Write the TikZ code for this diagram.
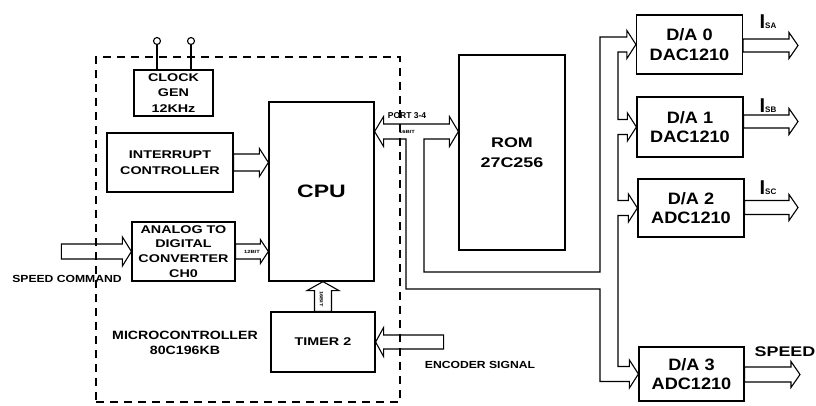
\documentclass[tikz,border=0pt]{standalone}
\usepackage{fontspec}
\setmainfont{Liberation Sans}
\newfontfamily\fW[FakeStretch=1.28]{Liberation Sans}
\newfontfamily\fM[FakeStretch=1.18]{Liberation Sans}
\newfontfamily\fD[FakeStretch=1.1]{Liberation Sans}
\usetikzlibrary{calc}
\newcommand\fsz[2]{\fontsize{#1}{#2}\selectfont}
% block arrows: tail, tip, half width, head length, head half width
\newcommand\barR[5]{\draw[arr] ($(#1)+(0,-#3)$) -- ($(#2)+(-#4,-#3)$) -- ($(#2)+(-#4,-#5)$) -- (#2) -- ($(#2)+(-#4,#5)$) -- ($(#2)+(-#4,#3)$) -- ($(#1)+(0,#3)$) -- cycle;}
\newcommand\barL[5]{\draw[arr] ($(#1)+(0,-#3)$) -- ($(#2)+(#4,-#3)$) -- ($(#2)+(#4,-#5)$) -- (#2) -- ($(#2)+(#4,#5)$) -- ($(#2)+(#4,#3)$) -- ($(#1)+(0,#3)$) -- cycle;}
\newcommand\barU[5]{\draw[arr] ($(#1)+(-#3,0)$) -- ($(#2)+(-#3,#4)$) -- ($(#2)+(-#5,#4)$) -- (#2) -- ($(#2)+(#5,#4)$) -- ($(#2)+(#3,#4)$) -- ($(#1)+(#3,0)$) -- cycle;}
\begin{document}
\begin{tikzpicture}[x=1pt,y=-1pt,
  box/.style={draw, line width=1.2pt, inner sep=0pt, align=center, font=\fW\bfseries\fsz{11.2}{15.5}},
  dabox/.style={draw, line width=1.2pt, inner sep=0pt, align=center, font=\fD\bfseries\fsz{16.5}{19.5}, minimum width=106pt},
  arr/.style={line width=1.1pt, line join=miter},
  bus/.style={line width=1.1pt, line join=miter},
  lab/.style={inner sep=0pt, align=center, font=\fM\bfseries\fsz{10.3}{15}},
  tiny/.style={inner sep=0pt, font=\fW\bfseries\fsz{4.5}{5}},
  isub/.style={inner sep=0pt, font=\bfseries},
  mcubox/.style={draw, dash pattern=on 8pt off 6pt, line width=1.3pt, inner sep=0pt}]
\path[fill=white, use as bounding box] (0,0) rectangle (816,405);

% microcontroller boundary
\node[mcubox, minimum width=304pt, minimum height=345pt] (mcu) at (248,229.5) {};

% boxes
\node[box, minimum width=79pt, minimum height=46pt] (clk) at (173.5,93) {CLOCK\\GEN\\12KHz};
\node[box, minimum width=126pt, minimum height=59pt] (intr) at (170,162.5) {INTERRUPT\\CONTROLLER};
\node[box, minimum width=103pt, minimum height=59pt, font=\fW\bfseries\fsz{11.2}{14.8}] (adc) at (183.5,251.5) {ANALOG TO\\DIGITAL\\CONVERTER\\CH0};
\node[box, minimum width=105pt, minimum height=179pt, font=\fW\bfseries\fsz{18}{20}] (cpu) at (321.5,191.5) {CPU};
\node[box, minimum width=104pt, minimum height=60pt] (timer) at (323,342) {TIMER 2};
\node[box, minimum width=106pt, minimum height=195pt, font=\fW\bfseries\fsz{14}{20}] (rom) at (512,152.5) {ROM\\27C256};
\node[dabox, minimum height=59pt] (da0) at (689.5,44.5) {D/A 0\\DAC1210};
\node[dabox, minimum height=60pt] (da1) at (690,127) {D/A 1\\DAC1210};
\node[dabox, minimum height=58pt] (da2) at (691,208) {D/A 2\\ADC1210};
\node[dabox, minimum height=54pt, minimum width=105pt] (da3) at (691.5,374) {D/A 3\\ADC1210};

% clock pins
\coordinate (pin1) at (157,41);
\coordinate (pin2) at (191,41);
\draw[line width=1.1pt] (pin1) circle[radius=3.5pt] (pin2) circle[radius=3.5pt];
\draw[line width=1.1pt] (clk.north -| pin1) -- ($(pin1)+(0,3.5)$);
\draw[line width=1.1pt] (clk.north -| pin2) -- ($(pin2)+(0,3.5)$);

% block arrows
\coordinate (sc0) at ($(adc.west)+(-70,0)$);
\barR{sc0}{adc.west}{7.5}{9}{14.5}
\coordinate (a12) at (cpu.west |- adc.east);
\barR{adc.east}{a12}{7.5}{8}{12}
\coordinate (ai) at (cpu.west |- intr.east);
\barR{intr.east}{ai}{8.5}{9}{14}
\coordinate (at) at (timer.north |- cpu.south);
\barU{timer.north}{at}{8.5}{9}{16}
\coordinate (en0) at ($(timer.east)+(68,0)$);
\barL{en0}{timer.east}{7}{8}{14.5}

% outputs
\coordinate (o0a) at (da0.east |- 0,45.5);  \coordinate (o0b) at (798,45.5);
\coordinate (o1a) at (da1.east |- 0,121.5); \coordinate (o1b) at (798,121.5);
\coordinate (o2a) at (da2.east |- 0,207.5); \coordinate (o2b) at (798,207.5);
\coordinate (o3a) at (da3.east |- 0,374.5); \coordinate (o3b) at (800,374.5);
\barR{o0a}{o0b}{6.5}{9}{13}
\barR{o1a}{o1b}{6.5}{9}{13}
\barR{o2a}{o2b}{7}{9}{13}
\barR{o3a}{o3b}{7.5}{9}{13}

% system bus (port 3-4)
\coordinate (pl) at (cpu.east |- 0,131.5);
\coordinate (pr) at (rom.west |- 0,131.5);
\draw[bus] (pl) -- ++(9,-15) -- ++(0,7.5) -- ($(pr)+(-9,-7.5)$) -- ++(0,-7.5) -- (pr) -- ++(-9,15) -- ++(0,-7.5)
  -- (424,139) -- (424,272) -- (600,272) -- (600,37)
  -- ($(da0.west)+(-9,-7.5)$) -- ++(0,-6.5) -- (da0.west) -- ++(-9,14) -- ++(0,-6.5) -- (618,52) -- (618,119.5)
  -- ($(da1.west)+(-9,-7.5)$) -- ++(0,-6.5) -- (da1.west) -- ++(-9,14) -- ++(0,-6.5) -- (618,134.5) -- (618,200.5)
  -- ($(da2.west)+(-9,-7.5)$) -- ++(0,-6.5) -- (da2.west) -- ++(-9,14) -- ++(0,-6.5) -- (618,215.5) -- (618,366.5)
  -- ($(da3.west)+(-9,-7.5)$) -- ++(0,-6.5) -- (da3.west) -- ++(-9,14) -- ++(0,-6.5) -- (600,381.5) -- (600,289)
  -- (406,289) -- (406,139) -- ($(pl)+(9,7.5)$) -- ++(0,7.5) -- cycle;

% labels
\node[lab] (lsc) at (67,279) {SPEED COMMAND};
\node[lab] (lenc) at (480,365) {ENCODER SIGNAL};
\node[lab, font=\fM\bfseries\fsz{12}{15}] (lmcu) at (185,342.5) {MICROCONTROLLER\\80C196KB};
\node[inner sep=0pt, font=\bfseries\fsz{8.5}{9}] (lport) at (407,116) {PORT 3-4};
\node[tiny] (l16a) at (407,131.5) {16BIT};
\node[tiny] (l12) at ($(adc.east)!0.5!(a12)$) {12BIT};
\node[tiny, rotate=-90] (l16b) at (321.5,299) {16BIT};
\node[isub] (isa) at (768,22) {\fsz{20}{20}I\fsz{8}{8}SA};
\node[isub] (isb) at (768,106) {\fsz{20}{20}I\fsz{8}{8}SB};
\node[isub] (isc) at (768,188) {\fsz{20}{20}I\fsz{8}{8}SC};
\node[inner sep=0pt, font=\fW\bfseries\fsz{14}{14}] (lspd) at (785,352) {SPEED};
\end{tikzpicture}
\end{document}
